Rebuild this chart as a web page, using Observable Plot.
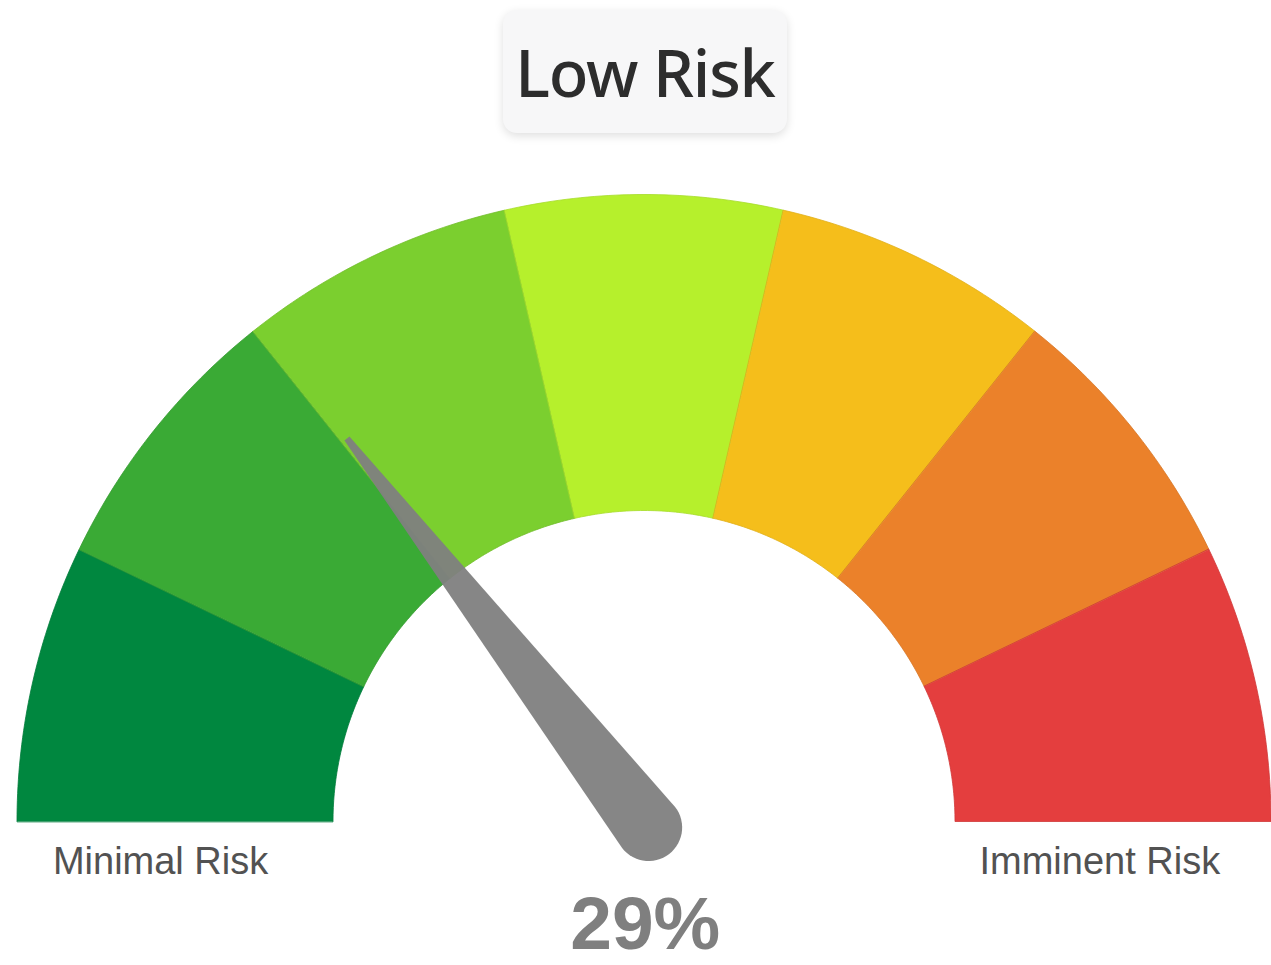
<!DOCTYPE html>
<html><head><meta charset="utf-8">
<script src="https://cdn.jsdelivr.net/npm/d3@7"></script>
<script src="https://cdn.jsdelivr.net/npm/@observablehq/plot@0.6"></script>
<style>
html,body{margin:0;padding:0;background:#fff;}
#head{position:relative;width:1271px;height:150px;}
#title{position:absolute;left:503px;top:10px;width:284px;height:123px;background:#f7f7f8;border-radius:14px;box-shadow:0 3px 10px rgba(0,0,0,0.13);display:flex;align-items:center;justify-content:center;font-family:"Noto Sans";font-weight:500;font-size:65px;color:#2d2d2d;letter-spacing:-1.2px;}
#chart svg{display:block}
</style></head><body>
<div id="head"><div id="title"></div></div>
<div id="chart"></div>
<script>
// ---- data ----
const titleText = "Low Risk";
const segBounds = [0, 14.29, 28.57, 42.86, 57.14, 71.43, 85.71, 100];
const segColors = ["#00873f", "#3aaa35", "#7bcf2f", "#b6f02c", "#f5be1b", "#eb812a", "#e43e3e"];
const endLabels = ["Minimal Risk", "Imminent Risk"];
const needleValue = 29;

// ---- geometry (units: outer radius = 1) ----
const W = 1271, H = 815;
const rOuter = 1, rInner = 0.496;
const ang = v => Math.PI * (1 - v / 100);

const segPts = [];
segColors.forEach((c, i) => {
  const a0 = ang(segBounds[i]), a1 = ang(segBounds[i + 1]);
  const n = 40;
  for (let k = 0; k <= n; k++) {
    const a = a0 + (a1 - a0) * k / n;
    segPts.push({seg: i, color: c, x: rOuter * Math.cos(a), y: rOuter * Math.sin(a)});
  }
  for (let k = n; k >= 0; k--) {
    const a = a0 + (a1 - a0) * k / n;
    segPts.push({seg: i, color: c, x: rInner * Math.cos(a), y: rInner * Math.sin(a)});
  }
});

// needle
const th = ang(needleValue);
const dir = [Math.cos(th), Math.sin(th)];
const perp = [-Math.sin(th), Math.cos(th)];
const back = 0.012, rb = 0.0535, L = 0.785, tw = 0.01;
const piv = [-dir[0] * back, -dir[1] * back];
const needlePts = [];
for (let k = 0; k <= 30; k++) {
  const a = th + Math.PI / 2 + Math.PI * k / 30;
  needlePts.push({x: piv[0] + rb * Math.cos(a), y: piv[1] + rb * Math.sin(a)});
}
needlePts.push({x: piv[0] + L * dir[0] - tw / 2 * perp[0], y: piv[1] + L * dir[1] - tw / 2 * perp[1]});
needlePts.push({x: piv[0] + L * dir[0] + tw / 2 * perp[0], y: piv[1] + L * dir[1] + tw / 2 * perp[1]});

const labelData = [
  {x: -0.771, y: -0.083, text: endLabels[0]},
  {x: 0.727, y: -0.083, text: endLabels[1]}
];
const valueData = [{x: 0.002, y: -0.2041, text: needleValue + "%"}];

document.getElementById("title").textContent = titleText;

const chart = Plot.plot({
  width: W, height: H, margin: 0,
  x: {domain: [-643.5 / 627, (W - 643.5) / 627], axis: null},
  y: {domain: [(671 - H) / 627, 671 / 627], axis: null},
  marks: [
    Plot.line(segPts, {x: "x", y: "y", z: "seg", fill: "color",
      stroke: d => d3.color(d.color).darker(0.25).formatHex(), strokeWidth: 0.8, curve: "linear-closed"}),
    Plot.line(needlePts, {x: "x", y: "y", fill: "#808080", fillOpacity: 0.95, stroke: "none", curve: "linear-closed"}),
    Plot.text(labelData, {x: "x", y: "y", text: "text", lineAnchor: "bottom", fontSize: 38,
      fontFamily: "Liberation Sans, Arial, sans-serif", fill: "#525252"}),
    Plot.text(valueData, {x: "x", y: "y", text: "text", lineAnchor: "bottom", fontSize: 75, fontWeight: "bold",
      fontFamily: "Liberation Sans, Arial, sans-serif", fill: "#7f7f7f"})
  ]
});
document.getElementById("chart").appendChild(chart);
</script>
</body></html>
